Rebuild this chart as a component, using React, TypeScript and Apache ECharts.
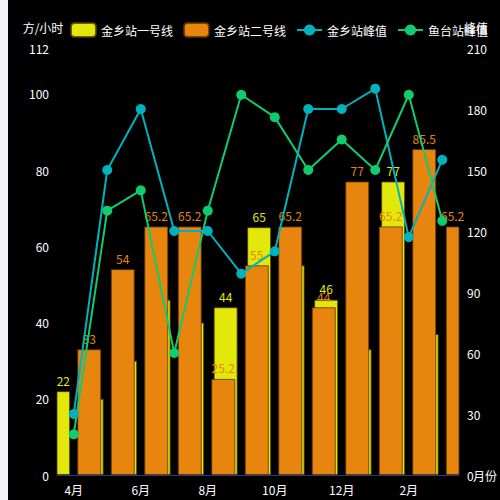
import { useRef, useEffect } from 'react';
import * as echarts from 'echarts';

const months = ['4月', '5月', '6月', '7月', '8月', '9月', '10月', '11月', '12月', '1月', '2月', '3月'];

// 柱子落在月份分界处，共13个位置
const line1Data = [22, 20, 30, 46, 40, 44, 65, 55, 46, 33, 77, 37, null];
const line2Data = [null, 33, 54, 65.2, 65.2, 25.2, 55, 65.2, 44, 77, 65.2, 85.5, 65.2];
const jinxiangPeak = [30, 150, 180, 120, 120, 99, 110, 180, 180, 190, 117, 155];
const yutaiPeak = [20, 130, 140, 60, 130, 187, 176, 150, 165, 150, 187, 125];

const YELLOW = '#e1e80a';
const ORANGE = '#e8850e';
const TEAL = '#00b2bd';
const GREEN = '#10cc6e';
const AXIS_BLUE = '#1e3c8c';

export default function App() {
  const chartRef = useRef<HTMLDivElement>(null);

  useEffect(() => {
    if (!chartRef.current) return;
    document.body.style.backgroundColor = '#f3f4f8';

    const chart = echarts.init(chartRef.current, null, { renderer: 'svg' });

    // 一号线的标签被更高的二号线柱子挡住时不显示
    const yellowItems = line1Data.map((v, i) => ({
      value: v,
      label: { show: v != null && v > (line2Data[i] ?? 0) },
    }));

    const option = {
      animation: false,
      backgroundColor: '#000',
      textStyle: { fontFamily: 'Noto Sans CJK SC' },
      legend: {
        right: 7,
        top: 17,
        itemWidth: 25,
        itemHeight: 14,
        itemGap: 10,
        textStyle: { color: '#fff', fontSize: 12 },
        data: ['金乡站一号线', '金乡站二号线', '金乡站峰值', '鱼台站峰值'],
      },
      grid: { left: 49, right: 41, top: 48, bottom: 25, outerBoundsMode: 'none' },
      xAxis: {
        type: 'category',
        data: months,
        boundaryGap: true,
        name: '月份',
        nameGap: 14,
        nameMoveOverlap: false,
        nameTextStyle: { color: '#fff', fontSize: 12 },
        axisLine: { lineStyle: { color: AXIS_BLUE } },
        axisTick: { lineStyle: { color: AXIS_BLUE } },
        axisLabel: { color: '#fff', fontSize: 12, interval: 1 },
      },
      yAxis: [
        {
          type: 'value',
          min: 0,
          max: 112,
          interval: 20,
          name: '方/小时',
          nameTextStyle: { color: '#fff', fontSize: 12, padding: [0, 28, 0, 0] },
          axisLabel: { color: '#fff', fontSize: 12 },
          splitLine: { show: false },
        },
        {
          type: 'value',
          min: 0,
          max: 210,
          interval: 30,
          name: '峰值',
          nameTextStyle: { color: '#fff', fontSize: 12, padding: [0, 0, 0, 34] },
          axisLabel: { color: '#fff', fontSize: 12 },
          splitLine: { show: false },
        },
      ],
      series: [
        {
          name: '金乡站一号线',
          type: 'bar',
          yAxisIndex: 0,
          barWidth: 24,
          barGap: '-110%',
          data: yellowItems,
          itemStyle: { color: YELLOW, borderColor: 'rgba(80,60,0,0.8)', borderWidth: 1 },
          label: { show: true, position: 'top', color: YELLOW, fontSize: 12 },
        },
        {
          name: '金乡站二号线',
          type: 'bar',
          yAxisIndex: 0,
          barWidth: 24,
          barGap: '-110%',
          data: line2Data,
          itemStyle: { color: ORANGE, borderColor: 'rgba(90,50,0,0.8)', borderWidth: 1 },
          label: { show: true, position: 'top', color: ORANGE, fontSize: 12 },
        },
        {
          // 空的占位柱，把两组柱子推到月份分界处
          name: '',
          type: 'bar',
          yAxisIndex: 0,
          barWidth: 60,
          barGap: '-110%',
          data: [],
          silent: true,
        },
        {
          name: '金乡站峰值',
          type: 'line',
          yAxisIndex: 1,
          symbol: 'circle',
          symbolSize: 10,
          data: jinxiangPeak,
          itemStyle: { color: TEAL },
          lineStyle: { color: TEAL, width: 2 },
        },
        {
          name: '鱼台站峰值',
          type: 'line',
          yAxisIndex: 1,
          symbol: 'circle',
          symbolSize: 10,
          data: yutaiPeak,
          itemStyle: { color: GREEN },
          lineStyle: { color: GREEN, width: 2 },
        },
      ],
    };

    chart.setOption(option);

    return () => {
      chart.dispose();
    };
  }, []);

  return (
    <div
      ref={chartRef}
      style={{ position: 'absolute', left: 8, top: 0, width: 492, height: 500 }}
    />
  );
}
